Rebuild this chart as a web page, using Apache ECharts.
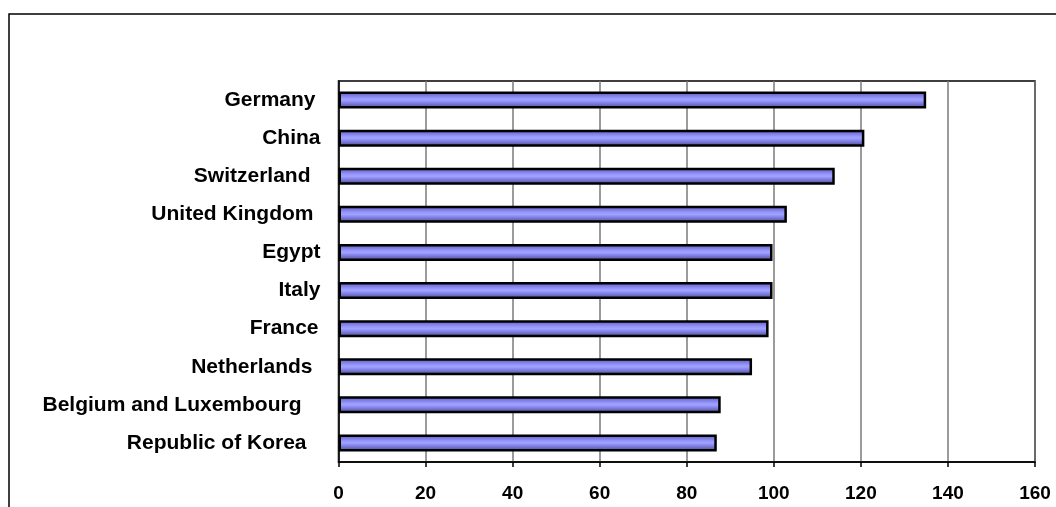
<!DOCTYPE html>
<html>
<head>
<meta charset="utf-8">
<script src="https://cdn.jsdelivr.net/npm/echarts@6/dist/echarts.min.js"></script>
<style>
html,body{margin:0;padding:0;background:#fff;}
#c{width:1056px;height:507px;}
</style>
</head>
<body>
<div id="c"></div>
<script>
// ---- data ----
const countries = ["Germany", "China", "Switzerland", "United Kingdom", "Egypt", "Italy", "France", "Netherlands", "Belgium and Luxembourg", "Republic of Korea"];
const values = [135, 120.8, 114, 103, 99.7, 99.7, 98.8, 95, 87.8, 86.9];
const xTicks = [0, 20, 40, 60, 80, 100, 120, 140, 160];

// ---- style only: extra right gap after each label (px) ----
const labelGap = [5, 0, 10, 7, 0, 0, 2, 8, 19, 14];

const rich = {};
labelGap.forEach((g, i) => {
  rich['r' + i] = {
    fontFamily: 'Liberation Sans, Arial, sans-serif',
    fontWeight: 'bold', fontSize: 21, color: '#000',
    padding: [0, g, 0, 0]
  };
});

const chart = echarts.init(document.getElementById('c'), null, {renderer: 'canvas'});
chart.setOption({
  animation: false,
  backgroundColor: '#fff',
  graphic: [{
    type: 'rect', silent: true, z: -10,
    shape: {x: 9, y: 14, width: 1200, height: 700},
    style: {fill: 'none', stroke: '#000', lineWidth: 1.5}
  }],
  grid: {
    left: 338.5, right: 21, top: 81, bottom: 45,
    show: true, borderColor: '#000', borderWidth: 1.5, backgroundColor: 'transparent'
  },
  xAxis: {
    type: 'value', min: xTicks[0], max: xTicks[xTicks.length - 1], interval: xTicks[1] - xTicks[0],
    axisLine: {show: true, lineStyle: {color: '#000', width: 1.5}},
    axisTick: {show: true, inside: false, length: 5, lineStyle: {color: '#000', width: 1.5}},
    splitLine: {show: true, lineStyle: {color: '#7a7a7a', width: 1.5}},
    axisLabel: {
      margin: 22, color: '#000', fontWeight: 'bold', fontSize: 19,
      fontFamily: 'Liberation Sans, Arial, sans-serif'
    }
  },
  yAxis: {
    type: 'category', data: countries, inverse: true,
    axisLine: {show: true, lineStyle: {color: '#000', width: 1.5}},
    axisTick: {show: false},
    splitLine: {show: false},
    axisLabel: {
      margin: 18,
      formatter: (v, i) => '{r' + i + '|' + v + '}',
      rich: rich
    }
  },
  series: [{
    type: 'bar', data: values, barWidth: 17,
    itemStyle: {
      borderColor: '#000', borderWidth: 2.5,
      color: new echarts.graphic.LinearGradient(0, 0, 0, 1, [
        {offset: 0, color: '#55559c'},
        {offset: 0.2, color: '#7777dc'},
        {offset: 0.4, color: '#9898ff'},
        {offset: 0.5, color: '#a2a2ff'},
        {offset: 0.62, color: '#8a8af0'},
        {offset: 0.82, color: '#6666bb'},
        {offset: 1, color: '#4a4a8a'}
      ])
    }
  }]
});
</script>
</body>
</html>
